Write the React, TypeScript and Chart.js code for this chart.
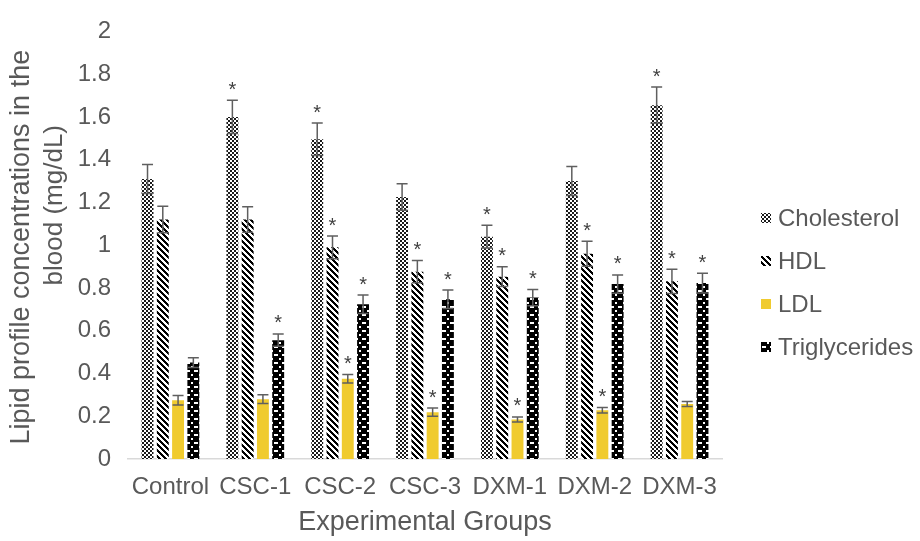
import React, { useEffect, useRef } from "react";
import { Chart, registerables } from "chart.js";

Chart.register(...registerables);

const categories = ["Control", "CSC-1", "CSC-2", "CSC-3", "DXM-1", "DXM-2", "DXM-3"];
const seriesNames = ["Cholesterol", "HDL", "LDL", "Triglycerides"];

const cholesterol = [1.31, 1.6, 1.495, 1.225, 1.04, 1.3, 1.655];
const hdl = [1.12, 1.12, 0.99, 0.876, 0.853, 0.96, 0.831];
const ldl = [0.275, 0.28, 0.375, 0.219, 0.185, 0.228, 0.257];
const triglycerides = [0.451, 0.556, 0.724, 0.747, 0.755, 0.818, 0.823];

const cholesterolErr = [0.068, 0.078, 0.076, 0.062, 0.053, 0.068, 0.085];
const hdlErr = [0.062, 0.06, 0.053, 0.052, 0.046, 0.059, 0.057];
const ldlErr = [0.022, 0.02, 0.02, 0.019, 0.012, 0.013, 0.012];
const triglyceridesErr = [0.023, 0.029, 0.043, 0.043, 0.038, 0.043, 0.046];

const cholesterolSig = [false, true, true, false, true, false, true];
const hdlSig = [false, false, true, true, true, true, true];
const ldlSig = [false, false, true, true, true, true, false];
const triglyceridesSig = [false, true, true, true, true, true, true];

const yTicks = [0, 0.2, 0.4, 0.6, 0.8, 1, 1.2, 1.4, 1.6, 1.8, 2];
const yTitleLines = ["Lipid profile concentrations in the", "blood (mg/dL)"];
const xTitle = "Experimental Groups";

const FONT = "'Liberation Sans', Arial, sans-serif";
const TEXT = "#595959";

function makeTile(w: number, h: number, draw: (c: CanvasRenderingContext2D) => void) {
  const cv = document.createElement("canvas");
  cv.width = w;
  cv.height = h;
  const c = cv.getContext("2d")!;
  draw(c);
  return cv;
}

function makePatterns(ctx: CanvasRenderingContext2D) {
  const checker = makeTile(4, 4, (c) => {
    c.fillStyle = "#ffffff";
    c.fillRect(0, 0, 4, 4);
    c.fillStyle = "#1a1a1a";
    c.fillRect(0, 0, 2, 2);
    c.fillRect(2, 2, 2, 2);
  });
  const stripes = makeTile(6, 6, (c) => {
    c.fillStyle = "#ffffff";
    c.fillRect(0, 0, 6, 6);
    c.fillStyle = "#000000";
    for (let x = 0; x < 6; x++) {
      for (let y = 0; y < 6; y++) {
        if ((((x - y) % 6) + 6) % 6 < 3) c.fillRect(x, y, 1, 1);
      }
    }
  });
  const chain = makeTile(8, 8, (c) => {
    c.fillStyle = "#000000";
    c.fillRect(0, 0, 8, 8);
    c.fillStyle = "#ffffff";
    c.fillRect(2, 2, 4, 2);
    c.fillRect(0, 6, 1, 2);
    c.fillRect(7, 6, 1, 2);
  });
  return [
    ctx.createPattern(checker, "repeat")!,
    ctx.createPattern(stripes, "repeat")!,
    "#F0CB2F",
    ctx.createPattern(chain, "repeat")!,
  ];
}

export default function App() {
  const ref = useRef<HTMLCanvasElement | null>(null);

  useEffect(() => {
    const canvas = ref.current!;
    const ctx = canvas.getContext("2d")!;
    const fills = makePatterns(ctx);
    const values = [cholesterol, hdl, ldl, triglycerides];
    const errs = [cholesterolErr, hdlErr, ldlErr, triglyceridesErr];
    const sigs = [cholesterolSig, hdlSig, ldlSig, triglyceridesSig];

    const errorPlugin = {
      id: "errorBars",
      afterDatasetsDraw(chart: any) {
        const c = chart.ctx;
        const y = chart.scales.y;
        c.save();
        chart.data.datasets.forEach((ds: any, di: number) => {
          const meta = chart.getDatasetMeta(di);
          meta.data.forEach((bar: any, i: number) => {
            const v = values[di][i];
            const e = errs[di][i];
            const top = y.getPixelForValue(v + e);
            const bot = y.getPixelForValue(v - e);
            const x = bar.x;
            c.strokeStyle = "#5f5f5f";
            c.lineWidth = 1.5;
            c.beginPath();
            c.moveTo(x, top);
            c.lineTo(x, bot);
            c.moveTo(x - 5.5, top);
            c.lineTo(x + 5.5, top);
            c.moveTo(x - 5.5, bot);
            c.lineTo(x + 5.5, bot);
            c.stroke();
            if (sigs[di][i]) {
              c.fillStyle = "#404040";
              c.font = `20px ${FONT}`;
              c.textAlign = "center";
              c.textBaseline = "middle";
              c.fillText("*", x, top - 10);
            }
          });
        });
        c.restore();
      },
    };

    const titlePlugin = {
      id: "yTitle",
      afterDraw(chart: any) {
        const c = chart.ctx;
        const area = chart.chartArea;
        const mid = (area.top + area.bottom) / 2;
        c.save();
        c.fillStyle = TEXT;
        c.textAlign = "center";
        c.textBaseline = "middle";
        const specs = [
          { x: 22, y: mid + 2, size: 27 },
          { x: 55, y: mid - 40, size: 26 },
        ];
        yTitleLines.forEach((line, i) => {
          c.save();
          c.font = `${specs[i].size}px ${FONT}`;
          c.translate(specs[i].x, specs[i].y);
          c.rotate(-Math.PI / 2);
          c.fillText(line, 0, 0);
          c.restore();
        });
        c.restore();
      },
    };

    const legendPlugin = {
      id: "customLegend",
      afterDraw(chart: any) {
        const c = chart.ctx;
        c.save();
        const x0 = chart.chartArea.right + 39;
        const y0 = 218;
        const step = 43;
        seriesNames.forEach((name, i) => {
          const yy = y0 + i * step;
          c.fillStyle = fills[i];
          c.fillRect(x0, yy - 5, 10, 10);
          c.fillStyle = TEXT;
          c.font = `24px ${FONT}`;
          c.textAlign = "left";
          c.textBaseline = "middle";
          c.fillText(name, x0 + 17, yy + 1);
        });
        c.restore();
      },
    };

    const chart = new Chart(canvas, {
      type: "bar",
      data: {
        labels: categories,
        datasets: seriesNames.map((name, i) => ({
          label: name,
          data: values[i],
          backgroundColor: fills[i] as any,
          borderWidth: 0,
          barPercentage: 0.78,
          categoryPercentage: 0.72,
        })),
      },
      options: {
        responsive: false,
        animation: false,
        devicePixelRatio: 1,
        layout: { padding: { left: 0, right: 198, top: 20, bottom: 0 } },
        plugins: {
          legend: { display: false },
          tooltip: { enabled: false },
        },
        scales: {
          x: {
            grid: { display: false, drawTicks: false },
            border: { display: true, color: "#d9d9d9", width: 1.5 },
            ticks: {
              color: TEXT,
              font: { family: FONT, size: 24 },
              padding: 14,
              maxRotation: 0,
              autoSkip: false,
            },
            title: {
              display: true,
              text: xTitle,
              color: TEXT,
              font: { family: FONT, size: 27 },
              padding: { top: 0, bottom: 2 },
            },
            afterFit(scale: any) {
              scale.height = 82;
            },
          },
          y: {
            min: 0,
            max: 2,
            grid: { display: false, drawTicks: false },
            border: { display: false },
            afterBuildTicks(scale: any) {
              scale.ticks = yTicks.map((v) => ({ value: v }));
            },
            ticks: {
              color: TEXT,
              font: { family: FONT, size: 24 },
              padding: 17,
              callback: (v: any) => String(Math.round(Number(v) * 10) / 10),
            },
            title: { display: false },
            afterFit(scale: any) {
              scale.width = 128;
            },
          },
        },
      },
      plugins: [errorPlugin, titlePlugin, legendPlugin],
    });
    return () => chart.destroy();
  }, []);

  return (
    <div style={{ position: "fixed", left: 0, top: 0, width: 920, height: 541, background: "#fff" }}>
      <canvas ref={ref} width={920} height={541} style={{ display: "block" }} />
    </div>
  );
}
